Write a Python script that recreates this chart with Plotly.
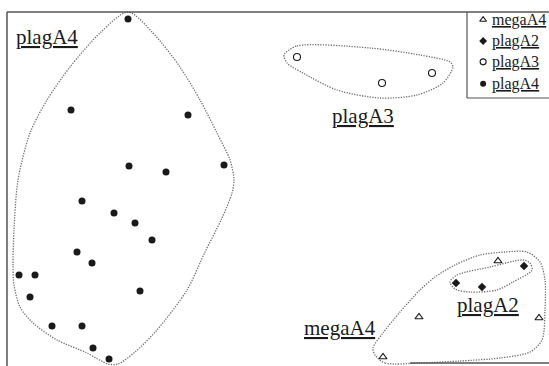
import plotly.graph_objects as go

# NMDS scores of the samples, by group
plagA4_x = [-1.50, -2.07, -0.90, -1.49, -1.12, -0.54, -1.96, -1.64, -1.43, -1.26,
            -2.01, -1.86, -2.59, -2.43, -2.48, -1.38, -2.26, -1.96, -1.85, -1.69]
plagA4_y = [1.71, 0.80, 0.75, 0.24, 0.18, 0.25, -0.11, -0.23, -0.33, -0.50,
            -0.62, -0.73, -0.85, -0.85, -1.07, -1.01, -1.36, -1.36, -1.58, -1.69]
plagA3_x = [0.19, 1.04, 1.54]
plagA3_y = [1.33, 1.07, 1.17]
megaA4_x = [2.20, 1.41, 2.61, 1.05]
megaA4_y = [-0.71, -1.27, -1.28, -1.67]
plagA2_x = [2.46, 1.78, 2.04]
plagA2_y = [-0.76, -0.93, -0.97]

# Hand-drawn envelopes around each group
hullA4_x = [-1.50, -1.25, -0.98, -0.78, -0.61, -0.48, -0.44, -0.46, -0.56, -0.73,
            -0.91, -1.21, -1.43, -1.60, -1.70, -1.91, -2.21, -2.45, -2.58, -2.64,
            -2.65, -2.64, -2.60, -2.48, -2.31, -2.08, -1.78, -1.50]
hullA4_y = [1.78, 1.57, 1.23, 0.90, 0.57, 0.30, 0.10, -0.03, -0.28, -0.62,
            -1.00, -1.40, -1.62, -1.74, -1.74, -1.63, -1.50, -1.33, -1.17, -0.95,
            -0.75, -0.40, 0.10, 0.57, 0.90, 1.23, 1.57, 1.78]
hullA3_x = [0.06, 0.19, 0.92, 1.42, 1.72, 1.75, 1.65, 1.39, 1.02, 0.59, 0.25, 0.09, 0.06]
hullA3_y = [1.35, 1.44, 1.42, 1.35, 1.28, 1.23, 1.07, 0.95, 0.92, 1.00, 1.17, 1.27, 1.35]
hullMA4_x = [0.97, 1.07, 1.42, 1.82, 2.22, 2.52, 2.64, 2.67, 2.67, 2.62, 2.49, 2.27,
             2.02, 1.77, 1.57, 1.42, 1.22, 1.05, 0.95, 0.97]
hullMA4_y = [-1.65, -1.73, -1.73, -1.71, -1.68, -1.62, -1.50, -1.20, -0.90, -0.72, -0.62,
             -0.62, -0.65, -0.75, -0.87, -1.00, -1.22, -1.43, -1.58, -1.65]
hullA2_x = [1.72, 1.79, 2.12, 2.45, 2.52, 2.54, 2.35, 2.19, 1.92, 1.77, 1.72]
hullA2_y = [-0.92, -0.85, -0.77, -0.70, -0.73, -0.80, -0.92, -1.00, -1.02, -0.99, -0.92]

group_names = ["megaA4", "plagA2", "plagA3", "plagA4"]
label_x = {"plagA4": -2.31, "plagA3": 0.85, "plagA2": 2.10, "megaA4": 0.62}
label_y = {"plagA4": 1.53, "plagA3": 0.74, "plagA2": -1.15, "megaA4": -1.38}

SERIF = "Liberation Serif"
INK = "#1a1a1a"
HULL = "#707070"
FRAME = "#555555"

styles = {
    "megaA4": dict(symbol="triangle-up-open", size=7, color=INK, line=dict(width=1.2, color=INK)),
    "plagA2": dict(symbol="diamond", size=6.5, color=INK),
    "plagA3": dict(symbol="circle-open", size=7, color=INK, line=dict(width=1.1, color=INK)),
    "plagA4": dict(symbol="circle", size=7, color=INK),
}
key_styles = {
    "megaA4": dict(symbol="triangle-up-open", size=6, color=INK, line=dict(width=1.1, color=INK)),
    "plagA2": dict(symbol="diamond", size=6, color=INK),
    "plagA3": dict(symbol="circle-open", size=6, color=INK, line=dict(width=1.1, color=INK)),
    "plagA4": dict(symbol="circle", size=6, color=INK),
}
points = {
    "megaA4": (megaA4_x, megaA4_y),
    "plagA2": (plagA2_x, plagA2_y),
    "plagA3": (plagA3_x, plagA3_y),
    "plagA4": (plagA4_x, plagA4_y),
}
hulls = [(hullA4_x, hullA4_y), (hullA3_x, hullA3_y), (hullMA4_x, hullMA4_y), (hullA2_x, hullA2_y)]

fig = go.Figure()

for hx, hy in hulls:
    fig.add_trace(go.Scatter(
        x=hx, y=hy, mode="lines", showlegend=False, hoverinfo="skip",
        line=dict(color=HULL, width=1.3, dash="1.3px,1.3px", shape="spline", smoothing=0.8),
    ))

for name in group_names:
    px, py = points[name]
    fig.add_trace(go.Scatter(x=px, y=py, mode="markers", name=name,
                             marker=styles[name], showlegend=False))

# Group labels, underlined
for name in group_names:
    fig.add_annotation(
        x=label_x[name], y=label_y[name], xref="x", yref="y", text=name,
        showarrow=False,
        font=dict(family=SERIF, size=21, color=INK, lineposition="under"),
    )

# Legend key box (paper space overlay)
key_x = 0.880
key_rows = [0.946, 0.888, 0.831, 0.771]
for name, ky in zip(group_names, key_rows):
    fig.add_trace(go.Scatter(x=[key_x], y=[ky], xaxis="x2", yaxis="y2", mode="markers",
                             marker=key_styles[name], showlegend=False, hoverinfo="skip"))
    fig.add_annotation(
        x=0.8925, y=ky, xref="paper", yref="paper", text=name, showarrow=False,
        xanchor="left", yanchor="middle",
        font=dict(family=SERIF, size=16, color=INK, lineposition="under"),
    )

top = 1 - 12 / 366
fig.add_shape(type="line", xref="paper", yref="paper", x0=7 / 549, x1=7 / 549, y0=0, y1=top,
              line=dict(color=FRAME, width=1.5))
fig.add_shape(type="line", xref="paper", yref="paper", x0=7 / 549, x1=1, y0=top, y1=top,
              line=dict(color=FRAME, width=1.5))
fig.add_shape(type="line", xref="paper", yref="paper", x0=410 / 549, x1=1, y0=3 / 366, y1=3 / 366,
              line=dict(color=FRAME, width=1.5))
fig.add_shape(type="line", xref="paper", yref="paper", x0=467 / 549, x1=467 / 549,
              y0=1 - 98 / 366, y1=top, line=dict(color=FRAME, width=1.2))
fig.add_shape(type="line", xref="paper", yref="paper", x0=467 / 549, x1=1,
              y0=1 - 98 / 366, y1=1 - 98 / 366, line=dict(color=FRAME, width=1.2))

hidden = dict(showgrid=False, zeroline=False, showticklabels=False, ticks="", showline=False)
fig.update_layout(
    width=549, height=366,
    margin=dict(l=0, r=0, t=0, b=0),
    paper_bgcolor="white", plot_bgcolor="white",
    xaxis=dict(range=[-2.78, 2.71], **hidden),
    yaxis=dict(range=[-1.76, 1.90], **hidden),
    xaxis2=dict(range=[0, 1], overlaying="x", anchor="y2", **hidden),
    yaxis2=dict(range=[0, 1], overlaying="y", anchor="x2", **hidden),
    showlegend=False,
)

fig.write_html("out.html")
